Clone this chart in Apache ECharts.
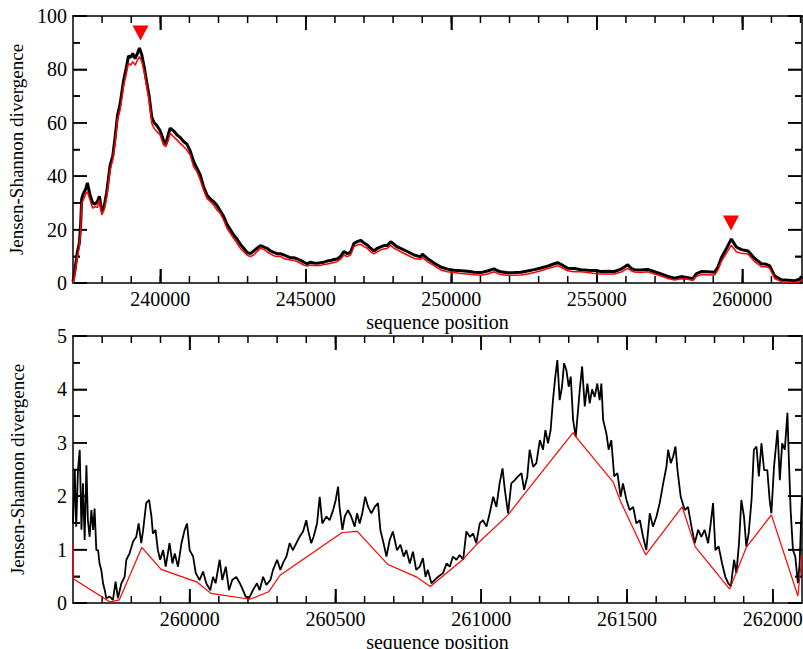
<!DOCTYPE html>
<html>
<head>
<meta charset="utf-8">
<script src="https://cdn.jsdelivr.net/npm/echarts@6/dist/echarts.min.js"></script>
<style>
  html, body { margin: 0; padding: 0; background: #fff; }
  #chart { width: 803px; height: 649px; }
</style>
</head>
<body>
<div id="chart"></div>
<script>
// ---- top panel: whole region ----
var topX = [237000,237069,237149,237218,237264,237298,237356,237448,237494,237585,237677,237757,237838,237907,237987,238067,238159,238274,238366,238446,238526,238618,238733,238848,238905,238985,239054,239135,239215,239284,239364,239444,239536,239617,239708,239789,239880,239995,240110,240191,240283,240340,240455,240570,240684,240799,240914,241028,241143,241258,241373,241487,241602,241717,241832,241947,242061,242176,242291,242406,242520,242635,242750,242865,242980,243094,243209,243324,243439,243553,243668,243783,243898,244012,244127,244242,244357,244472,244586,244701,244816,244930,245045,245160,245275,245390,245505,245619,245734,245849,245964,246079,246193,246308,246423,246538,246652,246767,246882,246997,247112,247226,247341,247456,247571,247685,247800,247915,248029,248144,248259,248488,248718,248947,249005,249177,249406,249636,249865,250095,250324,250554,250784,251013,251243,251472,251587,251702,251931,252161,252390,252620,252849,253079,253308,253538,253653,253768,253997,254226,254456,254686,254915,255145,255374,255604,255833,256063,256178,256292,256522,256752,256981,257211,257440,257670,257899,258129,258301,258416,258588,258817,259047,259162,259276,259449,259621,259793,259966,260195,260425,260654,260826,260941,261114,261343,261573,261802,261974,262050];
var topRed = [0,3.6,9.9,13.6,19.9,29.8,31.1,33.6,34.2,31.1,28,28.6,28.3,31.1,25.5,27.3,32.3,42.3,46.1,52.3,61.0,64.8,73.5,79.2,82.3,81.6,82.9,81.6,83.5,84.8,82.9,79.2,73.5,68.5,59.8,57.9,56.7,55.4,51.7,51.1,53.7,56.1,54.8,53.6,52.3,51.1,49.8,47.9,43.6,41.7,38.6,34.8,31.7,30.5,29.2,27.3,26.1,23.6,20.5,18.6,16.7,14.9,13.0,11.7,10.5,9.9,10.5,11.7,13.0,12.6,11.7,10.9,10.2,9.9,10.1,9.2,8.9,8.6,8.4,8.0,7.4,6.7,6.4,6.7,6.6,6.6,6.6,6.9,7.1,7.4,7.7,8.0,8.9,10.5,9.9,10.5,13.6,14.2,14.5,13.6,13.0,11.7,10.9,11.7,12.4,12.7,13.0,14.2,13.0,12.4,11.7,10.5,9.2,8.9,9.6,8.0,6.5,4.9,4.2,3.9,3.6,3.4,3.1,2.9,3.4,4.2,3.6,3.2,2.9,2.9,3.0,3.4,3.9,4.6,5.4,6.1,6.5,5.9,4.6,4.2,4.2,3.9,3.6,3.4,3.4,3.4,4.1,5.5,4.6,4.1,3.9,4.2,3.4,2.6,1.7,1.1,1.6,1.4,0.9,2.4,3.2,3.1,3.0,4.9,8.0,11.1,14.2,11.7,11.1,10.9,8.0,6.1,6.1,5.5,1.7,0.5,0.4,0.1,0.5,1.3];
var topBlack = [0.5,5,11.5,15,22,31.5,33.5,35.5,37.5,33,30,29.5,30.5,32.5,27,28.5,34,44,47.5,54.5,62.5,67,75.5,81.5,85,84.5,86,84,86,88,85.5,81,75,70,62,60,59,57,53.5,52,56,58,57,55.5,54.5,53,52,49.5,45.5,43,40.5,36,33,31.5,30.5,29,27,25,22,20,18,16.5,14.5,13,11.5,11,12,13,14,13.5,13,12,11.5,11,11,10.5,10,9.5,9.5,9,8.5,7.8,7.2,7.8,7.5,7.4,7.6,7.8,8.2,8.4,8.8,9,10,11.8,11,11.5,14.8,15.5,16,15,14.2,13,12,13,13.5,14,14,15.5,14.5,13.5,13,11.8,10.5,9.8,10.8,9.2,7.5,6,5.2,4.8,4.6,4.4,4.0,3.9,4.5,5.3,4.6,4.2,3.8,3.9,4.0,4.5,5.0,5.6,6.3,7.2,7.6,7.0,5.5,5.4,5.0,4.8,4.7,4.3,4.4,4.3,5.2,6.8,5.5,5.0,4.9,5.1,4.2,3.4,2.5,1.8,2.4,2.0,1.6,3.4,4.3,4.2,4.0,6.0,9.4,12.8,16.5,13.5,12.5,12,9.2,7.2,7.0,6.4,2.6,1.2,1.0,0.8,1.5,2.5];
var topPeaks = [[239319, 93.6], [259610, 22.5]];
var topMajorTicks = [240000, 245000, 250000, 255000, 260000];
var topMinorTicks = [238000,239000,240000,241000,242000,243000,244000,245000,246000,247000,248000,249000,250000,251000,252000,253000,254000,255000,256000,257000,258000,259000,260000,261000,262000];
var topYMajor = [0, 20, 40, 60, 80, 100];
var topYMinor = [10, 30, 50, 70, 90];

// ---- bottom panel: zoom on 259600-262100 ----
var botBlack = [[259600,1.49],[259606,2.49],[259611,1.43],[259617,2.49],[259623,2.87],[259629,1.37],[259634,2.24],[259640,1.18],[259646,2.58],[259651,1.55],[259657,1.24],[259663,1.74],[259669,1.37],[259674,1.77],[259680,0.99],[259686,0.99],[259691,0.74],[259697,0.62],[259703,0.37],[259709,0.24],[259714,0.09],[259726,0.12],[259737,0.06],[259746,0.40],[259754,0.09],[259766,0.37],[259777,0.49],[259783,0.81],[259794,0.93],[259806,1.15],[259817,1.24],[259825,1.49],[259834,1.12],[259840,1.34],[259851,1.87],[259861,1.93],[259869,1.62],[259874,1.30],[259883,1.37],[259891,0.99],[259899,0.81],[259909,0.99],[259918,0.68],[259931,1.12],[259941,0.74],[259949,0.93],[259960,0.68],[259972,1.12],[259983,1.37],[259991,1.49],[260000,0.99],[260012,0.87],[260021,0.56],[260034,0.43],[260046,0.59],[260057,0.37],[260071,0.24],[260080,0.49],[260089,0.37],[260103,0.81],[260112,0.43],[260124,0.68],[260135,0.24],[260146,0.43],[260160,0.49],[260172,0.37],[260183,0.24],[260192,0.12],[260204,0.09],[260217,0.24],[260231,0.37],[260240,0.24],[260252,0.49],[260263,0.34],[260277,0.43],[260286,0.62],[260300,0.81],[260311,0.62],[260322,0.77],[260332,0.87],[260343,1.12],[260354,0.99],[260366,1.12],[260377,1.24],[260389,1.34],[260400,1.55],[260406,1.37],[260417,1.12],[260425,1.24],[260437,1.49],[260446,1.99],[260455,1.49],[260469,1.62],[260480,1.55],[260492,1.74],[260501,1.93],[260509,2.18],[260514,1.80],[260524,1.37],[260532,1.62],[260543,1.74],[260554,1.62],[260566,1.43],[260574,1.68],[260583,1.49],[260592,1.68],[260602,1.99],[260612,1.80],[260623,1.68],[260635,1.80],[260646,1.87],[260654,1.37],[260665,1.12],[260675,0.87],[260686,1.18],[260697,1.34],[260711,0.99],[260723,1.09],[260734,0.87],[260743,0.99],[260755,0.74],[260766,0.96],[260777,0.62],[260789,0.68],[260800,0.84],[260809,0.49],[260817,0.62],[260829,0.37],[260840,0.43],[260852,0.49],[260869,0.56],[260881,0.74],[260892,0.68],[260903,0.87],[260915,0.81],[260926,0.90],[260938,0.81],[260949,1.34],[260961,1.24],[260972,1.30],[260983,1.12],[260995,1.49],[261006,1.55],[261018,1.43],[261029,1.68],[261041,1.99],[261052,1.80],[261063,2.24],[261073,2.52],[261081,2.12],[261092,1.68],[261103,2.24],[261115,2.30],[261126,2.37],[261138,2.43],[261147,2.12],[261158,2.37],[261166,2.87],[261178,2.55],[261189,2.62],[261201,3.05],[261212,2.87],[261220,3.24],[261229,2.99],[261238,3.24],[261246,3.80],[261254,4.24],[261261,4.55],[261269,3.80],[261277,4.05],[261284,4.49],[261292,4.36],[261300,4.05],[261307,4.24],[261315,3.43],[261324,3.11],[261332,3.61],[261338,4.00],[261346,4.43],[261355,3.68],[261364,4.11],[261372,3.74],[261380,4.00],[261389,3.86],[261398,4.11],[261406,3.80],[261412,4.11],[261418,3.43],[261429,3.18],[261437,2.87],[261446,3.05],[261456,2.37],[261467,2.43],[261478,1.99],[261486,2.24],[261498,1.93],[261509,1.74],[261521,1.80],[261532,1.49],[261544,1.55],[261555,1.24],[261566,0.99],[261578,1.68],[261589,1.43],[261601,1.62],[261612,1.87],[261624,2.24],[261635,2.55],[261641,2.87],[261650,2.62],[261658,2.74],[261666,2.93],[261673,2.49],[261684,1.99],[261698,1.74],[261709,1.80],[261721,1.43],[261732,1.12],[261744,1.37],[261755,1.24],[261766,1.37],[261778,1.12],[261787,1.49],[261795,1.87],[261803,0.99],[261814,1.06],[261826,0.74],[261837,0.49],[261847,0.37],[261856,0.31],[261867,0.81],[261875,0.56],[261884,1.12],[261892,1.93],[261901,1.62],[261909,1.06],[261917,1.30],[261927,1.93],[261935,2.87],[261944,2.93],[261952,2.37],[261961,2.99],[261970,2.49],[261981,2.49],[261989,1.93],[261995,1.68],[262004,2.55],[262016,3.24],[262024,2.30],[262032,2.99],[262041,2.87],[262050,3.56],[262055,2.68],[262061,1.74],[262069,0.99],[262077,0.87],[262086,0.37],[262092,0.74],[262098,1.74],[262100,2.0]];
var botRed = [[259600,1.08],[259602,0.45],[259727,0.02],[259759,0.06],[259836,1.04],[259902,0.63],[260026,0.39],[260073,0.18],[260207,0.07],[260271,0.21],[260310,0.52],[260523,1.32],[260575,1.34],[260680,0.72],[260777,0.49],[260825,0.31],[260932,0.79],[260983,1.09],[261092,1.65],[261149,2.05],[261315,3.19],[261326,3.10],[261452,2.27],[261478,1.90],[261564,0.90],[261689,1.80],[261734,1.05],[261852,0.26],[261909,1.04],[261995,1.65],[262086,0.13],[262100,0.9]];
var botMajorTicks = [260000, 260500, 261000, 261500, 262000];
var botMinorTicks = [259700,259800,259900,260000,260100,260200,260300,260400,260500,260600,260700,260800,260900,261000,261100,261200,261300,261400,261500,261600,261700,261800,261900,262000];
var botYMajor = [0, 1, 2, 3, 4, 5];
var botYMinor = [0.5, 1.5, 2.5, 3.5, 4.5];

var FONT = 'Liberation Serif';

function zip(xs, ys) {
	var out = [];
	for (var i = 0; i < xs.length; i++) out.push([xs[i], ys[i]]);
	return out;
}

function plain(v) { return String(v); }

// tick rows for the frame: [x, y, length, kind]  kind 0 = x tick, 1 = y tick
function tickRows(xMin, yMin, xMajor, xMinor, yMajor, yMinor) {
	var rows = [];
	xMajor.forEach(function (v) { rows.push([v, yMin, 14, 0]); });
	xMinor.forEach(function (v) { rows.push([v, yMin, 7, 0]); });
	yMajor.forEach(function (v) { rows.push([xMin, v, 14, 1]); });
	yMinor.forEach(function (v) { rows.push([xMin, v, 7, 1]); });
	return rows;
}

// inward ticks on both opposite edges of the frame
function renderTick(params, api) {
	var cs = params.coordSys;
	var len = api.value(2);
	var p = api.coord([api.value(0), api.value(1)]);
	var st = { stroke: '#000', lineWidth: 1.5, fill: null };
	if (api.value(3) === 0) {
		return {
			type: 'group', children: [
				{ type: 'line', shape: { x1: p[0], y1: cs.y + cs.height, x2: p[0], y2: cs.y + cs.height - len }, style: st },
				{ type: 'line', shape: { x1: p[0], y1: cs.y, x2: p[0], y2: cs.y + len }, style: st }
			]
		};
	}
	return {
		type: 'group', children: [
			{ type: 'line', shape: { x1: cs.x, y1: p[1], x2: cs.x + len, y2: p[1] }, style: st },
			{ type: 'line', shape: { x1: cs.x + cs.width, y1: p[1], x2: cs.x + cs.width - len, y2: p[1] }, style: st }
		]
	};
}

function xAx(grid, pos, lo, hi, ticks, withLabels) {
	return {
		type: 'value', gridIndex: grid, position: pos, min: lo, max: hi,
		splitLine: { show: false },
		axisLine: { show: true, onZero: false, lineStyle: { color: '#000', width: 1.5 } },
		axisTick: { show: true, inside: true, length: 14, customValues: ticks, lineStyle: { color: '#000', width: 1.5 } },
		axisLabel: withLabels ? { show: true, customValues: ticks, formatter: plain, margin: 6, color: '#000', fontFamily: FONT, fontSize: 20 } : { show: false },
		name: withLabels ? 'sequence position' : '',
		nameLocation: 'middle', nameGap: 29,
		nameTextStyle: { color: '#000', fontFamily: FONT, fontSize: 20 }
	};
}

function yAx(grid, pos, hi, step, withLabels) {
	return {
		type: 'value', gridIndex: grid, position: pos, min: 0, max: hi, interval: step,
		splitLine: { show: false },
		axisLine: { show: true, onZero: false, lineStyle: { color: '#000', width: 1.5 } },
		axisTick: { show: true, inside: true, length: 14, lineStyle: { color: '#000', width: 1.5 } },
		minorTick: { show: true, splitNumber: 2, length: 7, lineStyle: { color: '#000', width: 1.5 } },
		axisLabel: withLabels ? { show: true, formatter: plain, margin: 6, color: '#000', fontFamily: FONT, fontSize: 20 } : { show: false },
		name: withLabels ? 'Jensen-Shannon divergence' : '',
		nameLocation: 'middle', nameRotate: 90, nameGap: 46,
		nameTextStyle: { color: '#000', fontFamily: FONT, fontSize: 19 }
	};
}

var chart = echarts.init(document.getElementById('chart'), null, { renderer: 'svg' });

var option = {
	animation: false,
	backgroundColor: '#fff',
	grid: [
		{ left: 73, top: 16, width: 729, height: 267, outerBoundsMode: 'none' },
		{ left: 73, top: 336, width: 729, height: 267, outerBoundsMode: 'none' }
	],
	xAxis: [
		xAx(0, 'bottom', 237000, 262050, topMajorTicks, true),
		xAx(0, 'top', 237000, 262050, topMajorTicks, false),
		xAx(1, 'bottom', 259600, 262100, botMajorTicks, true),
		xAx(1, 'top', 259600, 262100, botMajorTicks, false)
	],
	yAxis: [
		yAx(0, 'left', 100, 20, true),
		yAx(0, 'right', 100, 20, false),
		yAx(1, 'left', 5, 1, true),
		yAx(1, 'right', 5, 1, false)
	],
	series: [
		{
			type: 'line', xAxisIndex: 0, yAxisIndex: 0, clip: false,
			data: zip(topX, topBlack),
			showSymbol: false, symbol: 'none',
			lineStyle: { color: '#000', width: 3 }
		},
		{
			type: 'line', xAxisIndex: 0, yAxisIndex: 0, clip: false,
			data: zip(topX, topRed),
			showSymbol: false, symbol: 'none',
			lineStyle: { color: '#ff0000', width: 1.5 }
		},
		{
			type: 'scatter', xAxisIndex: 0, yAxisIndex: 0,
			data: topPeaks,
			symbol: 'triangle', symbolRotate: 180, symbolSize: [16, 15],
			itemStyle: { color: '#ff0000', opacity: 1 }
		},
		{
			type: 'custom', xAxisIndex: 0, yAxisIndex: 0, clip: false, silent: true,
			renderItem: renderTick,
			data: tickRows(237000, 0, topMajorTicks, topMinorTicks, topYMajor, topYMinor)
		},
		{
			type: 'line', xAxisIndex: 2, yAxisIndex: 2, clip: false,
			data: botBlack,
			showSymbol: false, symbol: 'none',
			lineStyle: { color: '#000', width: 1.8 }
		},
		{
			type: 'line', xAxisIndex: 2, yAxisIndex: 2, clip: false,
			data: botRed,
			showSymbol: false, symbol: 'none',
			lineStyle: { color: '#ff0000', width: 1.2 }
		},
		{
			type: 'custom', xAxisIndex: 2, yAxisIndex: 2, clip: false, silent: true,
			renderItem: renderTick,
			data: tickRows(259600, 0, botMajorTicks, botMinorTicks, botYMajor, botYMinor)
		}
	]
};

chart.setOption(option);
</script>
</body>
</html>
